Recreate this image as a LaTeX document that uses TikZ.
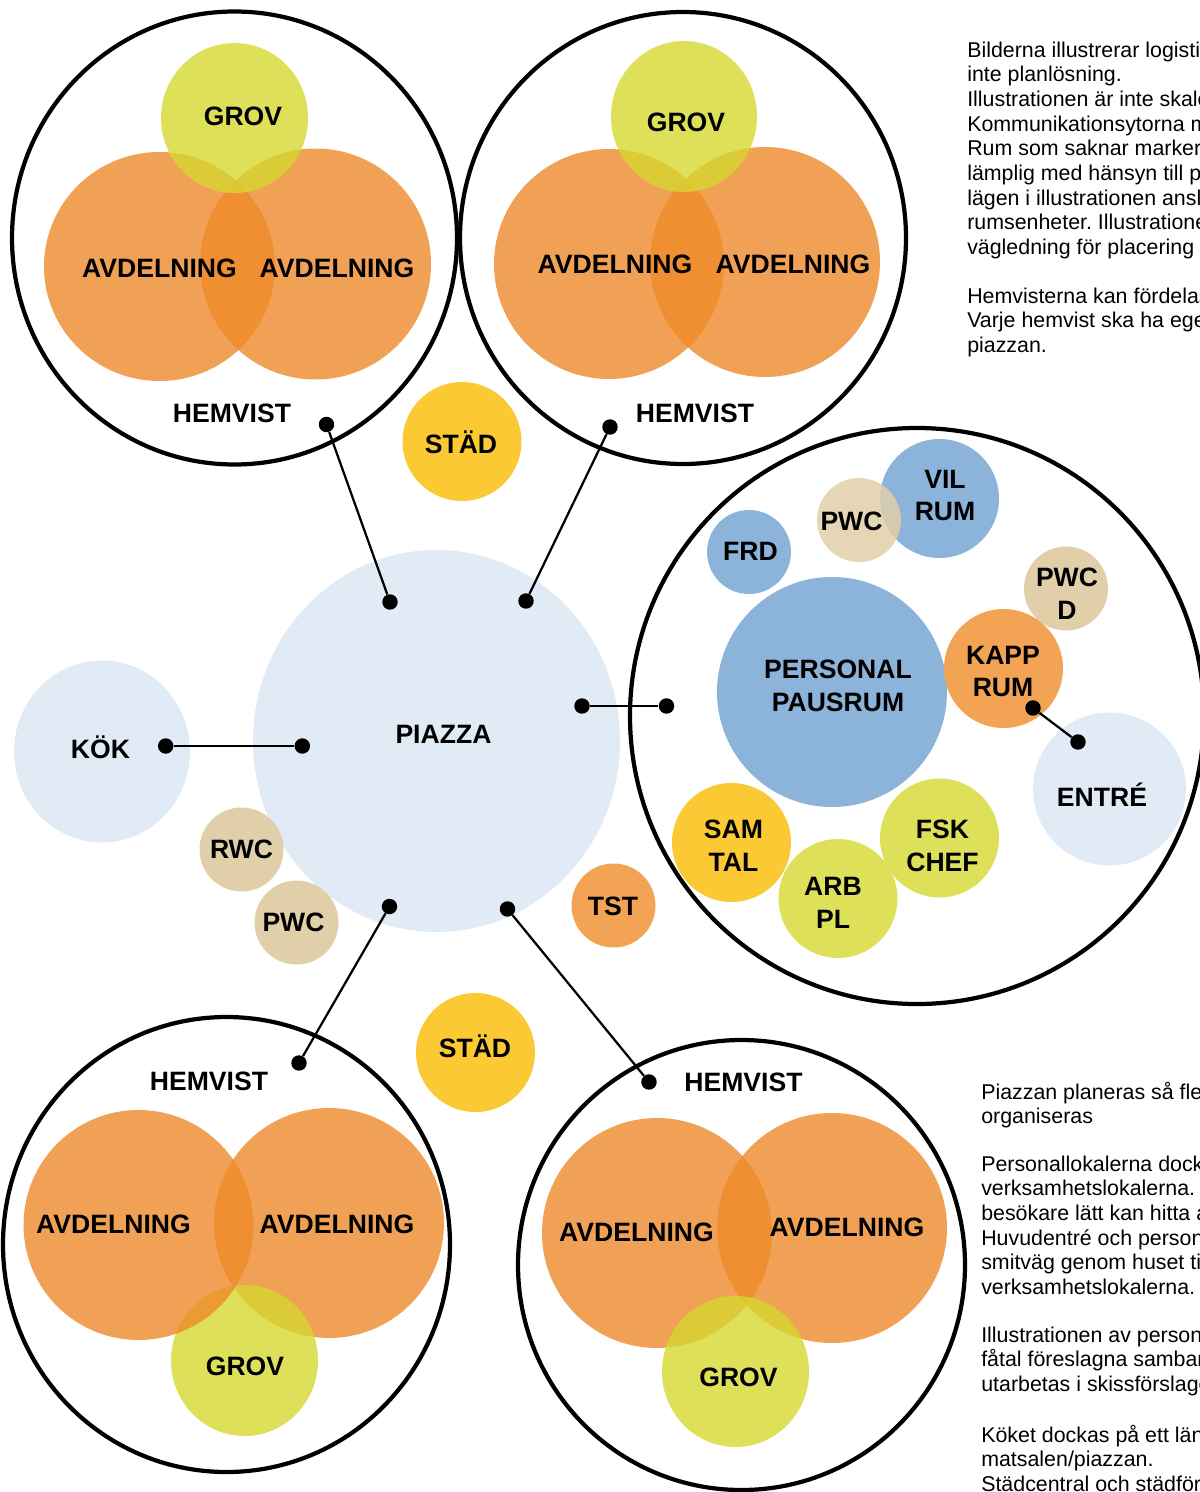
\documentclass[tikz,border=0pt]{standalone}
\usepackage{fontspec}
\setmainfont{Liberation Sans}
\usepackage{tikz}
\frenchspacing

\definecolor{avdorange}{RGB}{238,138,42}
\definecolor{grovgreen}{RGB}{215,216,49}
\definecolor{limegreen}{RGB}{223,224,90}
\definecolor{stadyellow}{RGB}{251,201,52}
\definecolor{rumblue}{RGB}{140,179,218}
\definecolor{piazzablue}{RGB}{225,235,246}
\definecolor{wcbeige}{RGB}{224,207,168}
\definecolor{tstorange}{RGB}{242,163,83}

\begin{document}
\begin{tikzpicture}[x=0.025cm, y=-0.025cm,
        lbl/.style={font=\bfseries\fontsize{18.9}{23.3}\selectfont, align=center, inner sep=0pt},
        note/.style={font=\fontsize{15.2}{17.5}\selectfont, align=left, anchor=north west, inner sep=0pt},
        dot/.style={circle, fill=black, inner sep=0pt, minimum size=11pt},
        link/.style={line width=1.6pt},
        hem/.style={line width=3pt},
        avd/.style={fill=avdorange, fill opacity=0.8},
        grov/.style={fill=grovgreen, fill opacity=0.8}]
            \useasboundingbox (0,0) rectangle (1200,1492);
            \clip (0,0) rectangle (1200,1492);

            \draw[hem] (234.5,238) circle [x radius=222.5, y radius=226.5];
            \fill[avd] (159.5,266.5) circle [x radius=115.5, y radius=114.5];
            \fill[avd] (315.5,264) circle [radius=115.5];
            \fill[grov] (234.5,118) circle [x radius=73.5, y radius=75];
            \node[lbl] (grovA) at (243,116) {GROV};
            \node[lbl] (avdA1) at (159.5,268.5) {AVDELNING};
            \node[lbl] (avdA2) at (337,268.5) {AVDELNING};
            \node[lbl] (hemA) at (232,413) {HEMVIST};

            \draw[hem] (683,238) circle [x radius=223, y radius=226];
            \fill[avd] (609,264) circle [radius=115];
            \fill[avd] (765,262) circle [radius=115];
            \fill[grov] (684,116.5) circle [x radius=73, y radius=75.5];
            \node[lbl] (grovB) at (686,122.5) {GROV};
            \node[lbl] (avdB1) at (615,264) {AVDELNING};
            \node[lbl] (avdB2) at (793,264) {AVDELNING};
            \node[lbl] (hemB) at (695,413) {HEMVIST};

            \draw[hem] (226.5,1244.5) circle [x radius=223.5, y radius=227.5];
            \fill[avd] (329,1223) circle [radius=115];
            \fill[grov] (244.5,1360.5) circle [x radius=73.5, y radius=75.5];
            \fill[avd] (138.5,1225) circle [radius=115];
            \node[lbl] (hemC) at (209,1081.5) {HEMVIST};
            \node[lbl] (avdC1) at (113.5,1224) {AVDELNING};
            \node[lbl] (avdC2) at (337,1224) {AVDELNING};
            \node[lbl] (grovC) at (245,1366) {GROV};

            \draw[hem] (741.5,1265) circle [x radius=223.5, y radius=225];
            \fill[avd] (657,1233) circle [radius=115];
            \fill[avd] (832,1228) circle [radius=115];
            \fill[grov] (735.5,1371.5) circle [x radius=73.5, y radius=75.5];
            \node[lbl] (hemD) at (743.5,1082) {HEMVIST};
            \node[lbl] (avdD1) at (636.5,1232) {AVDELNING};
            \node[lbl] (avdD2) at (847,1227) {AVDELNING};
            \node[lbl] (grovD) at (738.5,1377.5) {GROV};

            \draw[hem] (917,716) circle [x radius=287, y radius=288];

            \fill[piazzablue] (436.5,741) circle [x radius=183.5, y radius=191];
            \fill[piazzablue] (102,751.5) circle [x radius=88, y radius=91];
            \fill[piazzablue] (1109.5,789) circle [radius=76.5];
            \foreach \cx/\cy/\r/\c in {241.5/849.5/42/wcbeige, 296.5/922.5/42/wcbeige,
                    613.5/905.5/42/tstorange, 462/441.5/59.5/stadyellow, 475.5/1052.5/59.5/stadyellow,
                    832/692/115/rumblue, 749/552/42/rumblue, 939.5/498.5/59.5/rumblue,
                    1066/588.5/42/wcbeige, 1003.5/668.5/59.5/tstorange, 731.5/842.5/59.5/stadyellow,
                    838/898.5/59.5/limegreen, 939.5/838/59.5/limegreen} {
                \fill[\c] (\cx,\cy) circle [radius=\r];
            }
            \fill[wcbeige, fill opacity=0.85] (859,520) circle [radius=42];

            \node[lbl] (piazza) at (443.5,734) {PIAZZA};
            \node[lbl] (kok) at (100.5,747) {KÖK};
            \node[lbl] (rwc) at (241.5,849.5) {RWC};
            \node[lbl] (pwc) at (293.5,922) {PWC};
            \node[lbl] (tst) at (613,906.5) {TST};
            \node[lbl] (stadA) at (461,442.5) {STÄD};
            \node[lbl] (stadB) at (475,1046.5) {STÄD};
            \node[lbl] (personal) at (838,685.5) {PERSONAL\\PAUSRUM};
            \node[lbl] (frd) at (750.5,551) {FRD};
            \node[lbl] (pwcp) at (851.5,521.5) {PWC};
            \node[lbl] (vilrum) at (945,495.5) {VIL\\RUM};
            \node[lbl] (pwcd) at (1067,593.5) {PWC\\D};
            \node[lbl] (kapprum) at (1003,671.5) {KAPP\\RUM};
            \node[lbl] (entre) at (1102,795) {ENTRÉ};
            \node[lbl] (samtal) at (733.5,846) {SAM\\TAL};
            \node[lbl] (arbpl) at (833,902.5) {ARB\\PL};
            \node[lbl] (fskchef) at (942.5,846) {FSK\\CHEF};

            \node[dot] (hA) at (326.5,424.5) {};
            \node[dot] (pA) at (390,602) {};
            \node[dot] (hB) at (610,427) {};
            \node[dot] (pB) at (526,601) {};
            \node[dot] (kokdot) at (165.7,746) {};
            \node[dot] (pK) at (302.3,746) {};
            \node[dot] (pP) at (582,706) {};
            \node[dot] (persdot) at (666.5,706) {};
            \node[dot] (pC) at (389.5,906.5) {};
            \node[dot] (hC) at (299,1063) {};
            \node[dot] (pD) at (507.5,909) {};
            \node[dot] (hD) at (649,1082) {};
            \node[dot] (kappdot) at (1033,708) {};
            \node[dot] (entredot) at (1078,742) {};
            \foreach \a/\b in {hA/pA, hB/pB, kokdot/pK, pP/persdot, pC/hC, pD/hD, kappdot/entredot} {
                \draw[link] (\a) -- (\b);
            }

            \node[note] (infoA) at (967,41.6) {Bilderna illustrerar logisti\\inte planlösning.\\Illustrationen är inte skale\\Kommunikationsytorna m\\Rum som saknar marker\\lämplig med hänsyn till p\\lägen i illustrationen ansl\\rumsenheter. Illustratione\\vägledning för placering};
            \node[note] (infoB) at (967,287.6) {Hemvisterna kan fördelas\\Varje hemvist ska ha ege\\piazzan.};
            \node[note] (infoC) at (981,1081.6) {Piazzan planeras så fle\\organiseras};
            \node[note] (infoD) at (981,1155.5) {Personallokalerna dock\\verksamhetslokalerna.\\besökare lätt kan hitta a\\Huvudentré och person\\smitväg genom huset ti\\verksamhetslokalerna.};
            \node[note] (infoE) at (981,1326.5) {Illustrationen av person\\fåtal föreslagna samban\\utarbetas i skissförslage};
            \node[note] (infoF) at (981,1424.5) {Köket dockas på ett län\\matsalen/piazzan.\\Städcentral och städför};
        \end{tikzpicture}
\end{document}
